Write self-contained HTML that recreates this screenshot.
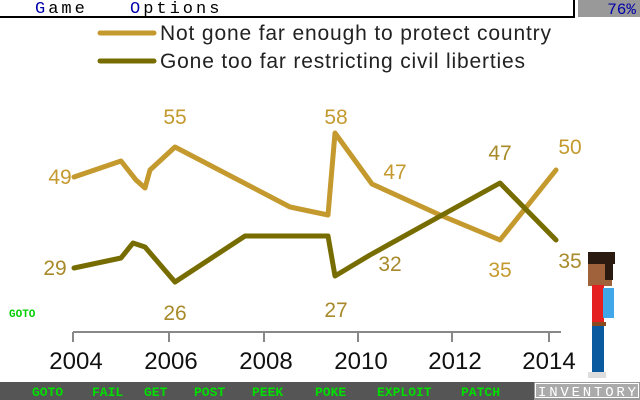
<!DOCTYPE html>
<html><head><style>
body{margin:0;width:640px;height:400px;overflow:hidden;background:#fff;font-family:"Liberation Sans",sans-serif;position:relative}
.a{position:absolute}
</style></head><body>
<svg class="a" style="left:0;top:0" width="640" height="400">
<line x1="0" y1="17" x2="574" y2="17" stroke="#000" stroke-width="2"/>
<line x1="574" y1="0" x2="574" y2="18" stroke="#000" stroke-width="2"/>
<rect x="578" y="0" width="62" height="17" fill="#999"/>
<text x="636" y="14" font-size="16" fill="#0000aa" text-anchor="end" font-family="Liberation Mono,monospace">76%</text>
<g font-size="17" font-family="Liberation Mono,monospace" fill="#000" letter-spacing="3">
<text x="35" y="13"><tspan fill="#0000aa">G</tspan>ame</text>
<text x="130" y="13"><tspan fill="#0000aa">O</tspan>ptions</text>
</g>
<g stroke-linecap="round" stroke-linejoin="round" fill="none" stroke-width="5">
<line x1="100" y1="33" x2="154" y2="33" stroke="#c49a2e"/>
<line x1="100" y1="61" x2="154" y2="61" stroke="#766c00"/>
<polyline stroke="#c49a2e" points="74,177 121,161 136,180 145,188 150,170 175,147 290,207 328,215 335,133 372,184 440,215 500,240 556,170"/>
<polyline stroke="#766c00" points="74,268 121,258 133,243 145,247 175,282 245,236 328,236 335,276 370,255 500,183 556,240"/>
</g>
<g stroke="#888" stroke-width="2"><line x1="73" y1="332" x2="561" y2="332"/>
<line x1="73" y1="332" x2="73" y2="342"/><line x1="169" y1="332" x2="169" y2="342"/><line x1="264" y1="332" x2="264" y2="342"/><line x1="358" y1="332" x2="358" y2="342"/><line x1="452" y1="332" x2="452" y2="342"/><line x1="549" y1="332" x2="549" y2="342"/></g>
<g font-size="21" fill="#c49a2e" text-anchor="middle">
<text x="60" y="184">49</text><text x="175" y="124">55</text><text x="336" y="124">58</text><text x="395" y="179">47</text><text x="500" y="277">35</text><text x="570" y="154">50</text>
<text x="55" y="275" fill="#a88a2a">29</text><text x="175" y="320" fill="#a88a2a">26</text><text x="336" y="317" fill="#a88a2a">27</text><text x="390" y="271" fill="#a88a2a">32</text><text x="500" y="160" fill="#a88a2a">47</text><text x="570" y="268" fill="#a88a2a">35</text>
</g>
<g font-size="24" fill="#111" text-anchor="middle">
<text x="76" y="369">2004</text><text x="171" y="369">2006</text><text x="266" y="369">2008</text><text x="361" y="369">2010</text><text x="455" y="369">2012</text><text x="549" y="369">2014</text>
</g>
<g font-size="21" fill="#222"><text x="160" y="40" textLength="391">Not gone far enough to protect country</text><text x="160" y="68" textLength="365">Gone too far restricting civil liberties</text></g>
<text x="9" y="317" font-size="11" font-weight="bold" fill="#00cc00" font-family="Liberation Mono,monospace">GOTO</text>
<rect x="588" y="256" width="24" height="30" fill="#a0623a"/>
<rect x="588" y="252" width="27" height="12" fill="#2a1a10"/>
<rect x="605" y="255" width="8" height="25" fill="#2a1a10"/>
<rect x="592" y="285" width="12" height="38" fill="#e52020"/>
<rect x="603" y="288" width="11" height="30" fill="#40a8e8"/>
<rect x="592" y="322" width="14" height="4" fill="#8a4a20"/>
<rect x="592" y="326" width="12" height="46" fill="#0a5aa0"/>
<rect x="588" y="372" width="18" height="6" fill="#ddd"/>
<rect x="0" y="382" width="534" height="18" fill="#555"/>
<rect x="534" y="382" width="106" height="18" fill="#999"/>
<rect x="535.5" y="383.5" width="103" height="14" fill="#aaa" stroke="#fff" stroke-width="1"/>
<g font-size="13" font-weight="bold" fill="#00dd00" font-family="Liberation Mono,monospace">
<text x="32" y="396">GOTO</text><text x="92" y="396">FAIL</text><text x="144" y="396">GET</text><text x="194" y="396">POST</text><text x="252" y="396">PEEK</text><text x="315" y="396">POKE</text><text x="377" y="396">EXPLOIT</text><text x="461" y="396">PATCH</text>
</g>
<text x="538" y="396" font-size="14" fill="#fff" font-family="Liberation Mono,monospace" textLength="98">INVENTORY</text>
</svg>
</body></html>
